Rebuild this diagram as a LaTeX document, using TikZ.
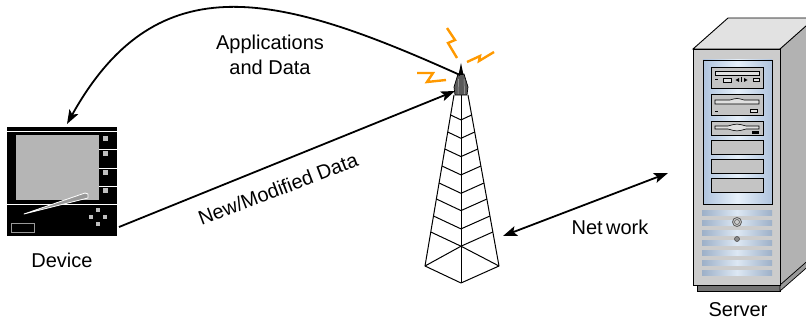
\documentclass[tikz,border=0pt]{standalone}
\usepackage{fontspec}
\setmainfont{Liberation Sans}
\usetikzlibrary{arrows.meta}

\definecolor{boltorange}{HTML}{FF9900}
\definecolor{caseface}{HTML}{CCCCCC}
\definecolor{casetop}{HTML}{E2E2E2}
\definecolor{caseside}{HTML}{B2B2B2}
\definecolor{panelblue}{HTML}{AFC3DD}
\definecolor{panellight}{HTML}{E6F0FA}
\definecolor{ventblue}{HTML}{9DB0C8}
\definecolor{ventlight}{HTML}{DDE8F4}

\tikzset{
  label text/.style={font=\fontsize{20}{25}\selectfont, align=center, inner sep=0pt},
  link/.style={line width=1.8pt, -{Stealth[length=14pt,width=10pt,inset=3pt]}},
  twolink/.style={line width=1.8pt, {Stealth[length=14pt,width=10pt,inset=3pt]}-{Stealth[length=14pt,width=10pt,inset=3pt]}},
  bolt/.style={boltorange, line width=2.4pt, line join=miter},
  towerline/.style={line width=1pt, line join=round},
  bay/.style={fill=black!23, draw=black, line width=0.9pt},
  vent/.style={left color=ventblue, right color=ventblue, middle color=ventlight},
  devkey/.style={fill=black!25},
}

\begin{document}
\begin{tikzpicture}[x=1pt, y=-1pt]
\useasboundingbox (0,0) rectangle (806,321);

% ---------- handheld device ----------
\fill[black] (7,127) rectangle (117,236);
\draw[white, line width=0.7pt] (7,131) -- (117,131);
\fill[black!29] (16,135) rectangle (99,200);
\draw[white, line width=0.7pt] (99,149) -- (117,149) (99,168) -- (117,168) (99,186) -- (117,186);
\draw[white, line width=0.7pt] (7,204) -- (117,204);
\fill[devkey] (103,136) rectangle (108,141);
\fill[devkey] (103,151) rectangle (108,156);
\fill[devkey] (103,170) rectangle (108,175);
\fill[devkey] (103,188) rectangle (108,193);
\draw[black!40, line width=1pt] (11,223) rectangle (34,232);
\fill[devkey] (96,208) rectangle (100,212);
\fill[devkey] (89,215) rectangle (93,219);
\fill[devkey] (103,215) rectangle (107,219);
\fill[devkey] (96,222) rectangle (100,226);
% stylus
\filldraw[fill=black!40, draw=white, line width=0.8pt, line join=round]
  (24,214) -- (85,193) -- (88,194) -- (88,198) -- cycle;
\node[label text] (device) at (62,260) {Device};

% ---------- radio tower ----------
\begin{scope}[towerline]
  \draw (454,95) -- (425,266) -- (461,283) -- (499,266) -- (468,95);
  \draw (461,95) -- (461,283);
  \foreach \xl/\yl/\xr/\yc in {450.6/115/471.6/119.9, 447.7/132/474.7/138.3,
      444.8/149/477.8/156.6, 442.0/166/480.9/174.9, 439.1/183/484.0/193.3,
      436.4/199/486.9/210.6, 433.5/216/489.9/228.9}
    \draw (\xl,\yl) -- (461,\yc) -- (\xr,\yl);
  \draw (425,266) -- (461,246.2) -- (492.8,232);
  \draw (499,266) -- (461,246.2) -- (430.8,232);
\end{scope}
% antenna cap
\filldraw[fill=black!65, draw=black, line width=0.7pt]
  (458,74) -- (464,74) -- (468,87) -- (467,95) -- (455,95) -- (454,87) -- cycle;
\draw[black!30, line width=0.5pt] (458.5,79) -- (458,94) (464,79) -- (464.5,94);
\fill[black] (461,63) -- (463.5,75) -- (458.5,75) -- cycle;
\coordinate (towertop) at (460,75);
\coordinate (towerfeed) at (455,91);
\coordinate (towerfoot) at (503,236);

% signal bolts
\draw[bolt] (447,28) -- (455,40) -- (448,43) -- (457,58);
\draw[bolt] (467,62) -- (480,56) -- (479,61) -- (494,52);
\draw[bolt] (417,73) -- (433,73) -- (427,82) -- (446,80);

% ---------- server cabinet ----------
\filldraw[fill=casetop, draw=black, line width=0.9pt] (693,49) -- (728,18) -- (820,18) -- (785,49) -- cycle;
\filldraw[fill=caseside, draw=black, line width=0.9pt] (780,49) -- (815,18) -- (815,258) -- (780,288) -- cycle;
\filldraw[fill=black!55, draw=black, line width=0.7pt] (697,285) rectangle (780,291);
\filldraw[fill=black!40, draw=black, line width=0.7pt] (780,285) -- (812,257) -- (812,263) -- (780,291) -- cycle;
\filldraw[fill=caseface, draw=black, line width=0.9pt] (693,49) rectangle (780,285);
\filldraw[left color=panelblue, right color=panelblue, middle color=panellight, draw=black, line width=0.9pt]
  (703,60) rectangle (772,204);
% drive bays
\draw[bay] (711,67) rectangle (763,88);
\draw[bay] (711,94) rectangle (763,115);
\draw[bay] (711,121) rectangle (763,135);
\draw[bay] (711,140) rectangle (763,154);
\draw[bay] (711,159) rectangle (763,173);
\draw[bay] (711,178) rectangle (763,192);
% optical drive details
\draw[black, fill=black!12, line width=0.6pt] (715,71) rectangle (759,75);
\draw[black, line width=0.8pt] (715,79.5) -- (718,79.5);
\draw[black, fill=black!12, line width=0.6pt] (723,78) rectangle (731,82);
\fill[black] (735.5,80) -- (739,78) -- (739,82) -- cycle (747.5,80) -- (744,78) -- (744,82) -- cycle;
\draw[black, line width=0.6pt] (741.5,77.5) -- (741.5,82.5);
\draw[black, fill=black!12, line width=0.6pt] (753,78) rectangle (759,81);
\draw[black, fill=black!12, line width=0.6pt] (715,100) -- (730,100) .. controls (737,98) .. (744,100) -- (759,100) -- (759,104) -- (715,104) -- cycle;
\draw[black, line width=0.8pt] (715,111.5) -- (718,111.5);
\draw[black, fill=black!12, line width=0.6pt] (750,109.5) rectangle (757,112.5);
% floppy drive
\draw[black, fill=black!12, line width=0.6pt] (715,126) -- (728,126) .. controls (737,123.5) .. (746,126) -- (759,126) -- (759,129) -- (746,129) .. controls (737,131.5) .. (728,129) -- (715,129) -- cycle;
\fill[black] (752,131) rectangle (759,133.5);
% vents
\foreach \vy in {210,220,230,240,250,260,270}
  \fill[vent] (702,\vy) rectangle (772,\vy+5);
\filldraw[fill=black!20, draw=black!65, line width=0.8pt] (737,222) circle (4.5);
\draw[black!65, line width=0.6pt] (737,222) circle (2.5);
\filldraw[fill=black!45, draw=black!70, line width=0.6pt] (737,239) circle (2.5);
\coordinate (serverport) at (668,173);
\node[label text] (server) at (738,310) {Server};

% ---------- data links ----------
\coordinate (devicetop) at (67,124);
\coordinate (deviceport) at (119,227);
\draw[link] (towertop) .. controls (280,-6) and (158,-39) .. (devicetop);
\draw[link] (deviceport) -- (towerfeed);
\draw[twolink] (towerfoot) -- (serverport);

\node[label text] (apps) at (270,55) {Applications\\and Data};
\node[label text, rotate=21] (newdata) at (278,189) {New/Modified Data};
\node[label text] (network) at (610,227) {Net\,work};
\end{tikzpicture}
\end{document}
